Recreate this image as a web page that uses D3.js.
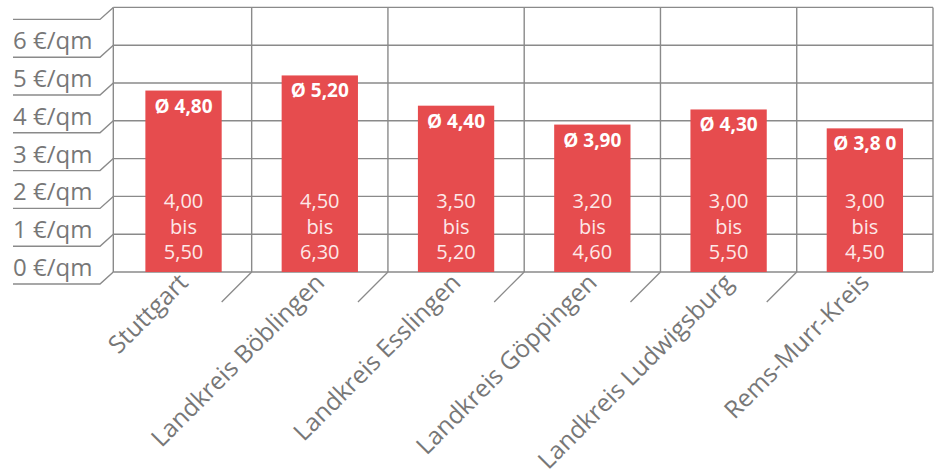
<!DOCTYPE html>
<html><head><meta charset="utf-8">
<script src="https://cdn.jsdelivr.net/npm/d3@7"></script>
<style>
html,body{margin:0;padding:0;background:#fff;}
svg{display:block;}
</style></head>
<body>
<svg id="chart" width="936" height="475"></svg>
<script>
const categories = ["Stuttgart","Landkreis Böblingen","Landkreis Esslingen","Landkreis Göppingen","Landkreis Ludwigsburg","Rems-Murr-Kreis"];
const averages = [4.80, 5.20, 4.40, 3.90, 4.30, 3.80];
const averageLabels = ["Ø 4,80","Ø 5,20","Ø 4,40","Ø 3,90","Ø 4,30","Ø 3,8 0"];
const lowLabels = ["4,00","4,50","3,50","3,20","3,00","3,00"];
const highLabels = ["5,50","6,30","5,20","4,60","5,50","4,50"];
const gridValues = [0,1,2,3,4,5,6,7];
const tickLabels = ["0 €/qm","1 €/qm","2 €/qm","3 €/qm","4 €/qm","5 €/qm","6 €/qm"];

const svg = d3.select("#chart");
const gridColor = "#8a8a8a";
const textColor = "#777777";
const barColor = "#e64c4e";
const font = "'Open Sans', sans-serif";

const x = d3.scaleBand().domain(categories).range([115.4, 933]).paddingInner(0.44).paddingOuter(0.22);
const y = d3.scaleLinear().domain([0, 7]).range([272, 7.4]);
const axisLeftX = 113.3;
const step = x.step();
const bandStart = i => 115.4 + i * step;

// horizontal grid lines
svg.append("g").selectAll("line").data(gridValues).join("line")
  .attr("x1", axisLeftX).attr("x2", 933)
  .attr("y1", d => y(d)).attr("y2", d => y(d))
  .attr("stroke", gridColor).attr("stroke-width", 1.4);

// left perspective lines
svg.append("g").selectAll("path").data(gridValues).join("path")
  .attr("d", d => `M${axisLeftX},${y(d)} L100,${y(d)+12} L13,${y(d)+12}`)
  .attr("fill", "none").attr("stroke", gridColor).attr("stroke-width", 1.4);

// vertical lines
const inner = categories.slice(1).map((c, i) => bandStart(i + 1));
const verticals = [axisLeftX].concat(inner).concat([933]);
svg.append("g").selectAll("line").data(verticals).join("line")
  .attr("x1", d => d).attr("x2", d => d)
  .attr("y1", y(7)).attr("y2", y(0))
  .attr("stroke", gridColor).attr("stroke-width", 1.4);

// bottom diagonal ticks
svg.append("g").selectAll("line").data(inner).join("line")
  .attr("x1", d => d).attr("y1", y(0))
  .attr("x2", d => d - 30).attr("y2", y(0) + 30)
  .attr("stroke", gridColor).attr("stroke-width", 1.3);

// y tick labels
svg.append("g").selectAll("text").data(tickLabels).join("text")
  .attr("x", 13).attr("y", (d, i) => y(i) + 4)
  .attr("font-family", font).attr("font-size", 24).attr("fill", textColor)
  .text(d => d);

// bars
svg.append("g").selectAll("rect").data(categories).join("rect")
  .attr("x", d => x(d)).attr("width", x.bandwidth())
  .attr("y", (d, i) => y(averages[i])).attr("height", (d, i) => y(0) - y(averages[i]))
  .attr("fill", barColor);

// average labels
svg.append("g").selectAll("text").data(categories).join("text")
  .attr("x", d => x(d) + x.bandwidth() / 2)
  .attr("y", (d, i) => y(averages[i]) + 22)
  .attr("text-anchor", "middle")
  .attr("font-family", font).attr("font-weight", "bold").attr("font-size", 19)
  .attr("fill", "#fff").text((d, i) => averageLabels[i]);

// range labels
const rg = svg.append("g");
categories.forEach((c, i) => {
  [lowLabels[i], "bis", highLabels[i]].forEach((t, j) => {
    rg.append("text")
      .attr("x", x(c) + x.bandwidth() / 2)
      .attr("y", y(0) - 64 + j * 25.5)
      .attr("text-anchor", "middle")
      .attr("font-family", font).attr("font-size", 20)
      .attr("fill", "#fde8e8").text(t);
  });
});

// category labels
svg.append("g").selectAll("text").data(categories).join("text")
  .attr("transform", d => `translate(${x(d) + x.bandwidth() / 2 + 6},${y(0) + 12}) rotate(-45)`)
  .attr("text-anchor", "end")
  .attr("font-family", font).attr("font-size", 24.5).attr("fill", textColor)
  .text(d => d);
</script>
</body></html>
